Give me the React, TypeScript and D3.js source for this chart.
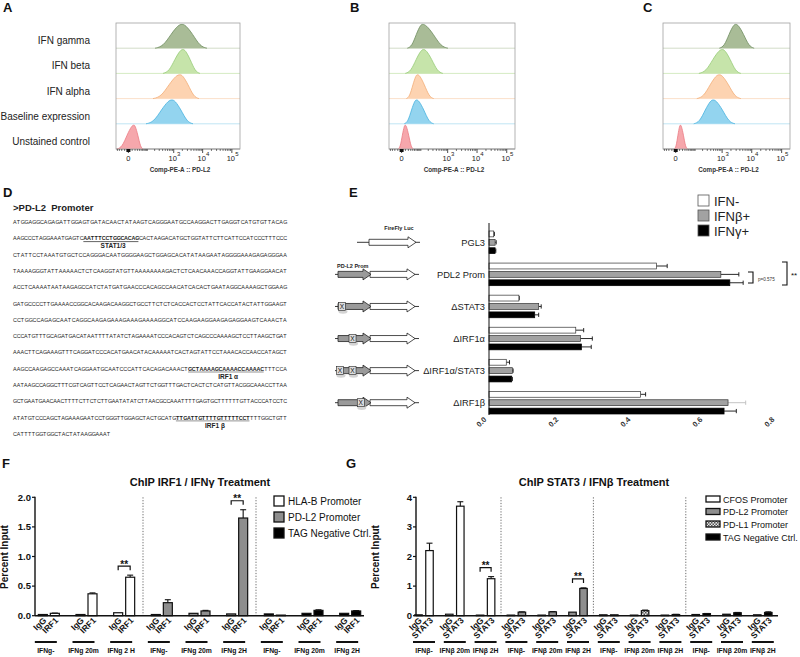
import React from "react";
import * as d3 from "d3";

const FONT = "'Liberation Sans', Arial, Helvetica, sans-serif";

/* ---------------- Panels A–C : flow cytometry overlays ---------------- */
const flowRowLabels = ["IFN gamma", "IFN beta", "IFN alpha", "Baseline expression", "Unstained control"];
const flowFill = ["#a9bc97", "#c6e4aa", "#fdd3b1", "#93d4ef", "#f6a7ac"];
const flowStroke = ["#6f8d60", "#97cb77", "#f3ad77", "#47b3e0", "#eb7b84"];
const flowBase = ["#d3dcc8", "#d5ebc3", "#fbe1ca", "#c0e5f4", "#9a9a9a"];
// [low edge, mode, high edge] of each histogram, fluorescence units (Comp-PE-A)
const histA = [[207, 1950, 14100], [413, 2100, 8100], [172, 1660, 7500], [87, 870, 4670], [-42, 16, 63]];
const histB = [[16, 118, 1023], [9.5, 130, 680], [12.7, 70, 320], [6.6, 63, 320], [-8.9, 9.5, 43]];
const histC = [[801, 2900, 12050], [143, 1023, 4310], [118, 801, 4310], [87, 489, 2735], [-3.4, 12.7, 43]];
const flowMajorTicks = [0, 1000, 10000, 100000];
const flowMajorExp = ["", "3", "4", "5"];
const flowAxisTitle = "Comp-PE-A :: PD-L2";

/* ---------------- Panel D : promoter sequence ---------------- */
const seqTitle = ">PD-L2  Promoter";
const seqLines = [
  "ATGGAGGCAGAGATTGGAGTGATACAACTATAAGTCAGGGAATGCCAAGGACTTGAGGTCATGTGTTACAG",
  "AAGCCCTAGGAAATGAGTC[AATTTCCTGGCACAG]CACTAAGACATGCTGGTATTCTTCATTCCATCCCTTTCCC",
  "CTATTCCTAAATGTGCTCCAGGGACAATGGGGAAGCTGGAGCACATATAAGAATAGGGGAAAGAGAGGGAA",
  "TAAAAGGGTATTAAAAACTCTCAAGGTATGTTAAAAAAAAGACTCTCAACAAACCAGGTATTGAAGGAACAT",
  "ACCTCAAAATAATAAGAGCCATCTATGATGAACCCACAGCCAACATCACACTGAATAGGCAAAAGCTGGAAG",
  "GATGCCCCTTGAAAACCGGCACAAGACAAGGCTGCCTTCTCTCACCACTCCTATTCACCATACTATTGGAAGT",
  "CCTGGCCAGAGCAATCAGGCAAGAGAAAGAAAGAAAAGGCATCCAAGAAGGAAGAGAGGAAGTCAAACTA",
  "CCCATGTTTGCAGATGACATAATTTTATATCTAGAAAATCCCACAGTCTCAGCCCAAAAGCTCCTTAAGCTGAT",
  "AAACTTCAGAAAGTTTCAGGATCCCACATGAACATACAAAAATCACTAGTATTCCTAAACACCAACCATAGCT",
  "AAGCCAAGAGCCAAATCAGGAATGCAATCCCATTCACAGACAAACT[GCTAAAAGCAAAACCAAAAC]TTTCCA",
  "AATAAGCCAGGCTTTCGTCAGTTCCTCAGAACTAGTTCTGGTTTGACTCACTCTCATGTTACGGCAAACCTTAA",
  "GCTGAATGAACAACTTTTCTTCTCTTGAATATATCTTAACGCCAAATTTTGAGTGCTTTTTTGTTACCCATCCTC",
  "ATATGTCCCAGCTAGAAAGAATCCTGGGTTGGAGCTACTGCATG[TTGATTGTTTTGTTTTTCCT]TTTGGCTGTT",
  "CATTTTGGTGGCTACTATAAGGAAAT",
];
const motifLines = [1, 9, 12];
const motifNames = ["STAT1/3", "IRF1 \u03b1", "IRF1 \u03b2"];

/* ---------------- Panel E : luciferase reporter ---------------- */
const eCats = ["PGL3", "PDL2 Prom", "\u0394STAT3", "\u0394IRF1\u03b1", "\u0394IRF1\u03b1/STAT3", "\u0394IRF1\u03b2"];
const eSeries = ["IFN-", "IFN\u03b2+", "IFN\u03b3+"];
const eFill = ["#ffffff", "#a2a2a2", "#000000"];
const eIfnNeg = [0.013, 0.465, 0.083, 0.241, 0.048, 0.421];
const eIfnBeta = [0.017, 0.644, 0.138, 0.254, 0.065, 0.664];
const eIfnGamma = [0.017, 0.669, 0.127, 0.257, 0.063, 0.653];
const eErrNeg = [0.002, 0.03, 0.001, 0.022, 0.009, 0.014];
const eErrBeta = [0.003, 0.05, 0.007, 0.033, 0.002, 0.049];
const eErrGamma = [0.002, 0.037, 0.011, 0.027, 0.002, 0.034];
const eTicks = [0, 0.2, 0.4, 0.6, 0.8];
const eDeletionSites = [[], [], [0.12], [0.44], [0.06, 0.44], [0.69]];

/* ---------------- Panel F : ChIP IRF1 ---------------- */
const fTreat = ["IFNg-", "IFNg 20m", "IFNg 2 H", "IFNg-", "IFNg 20m", "IFNg 2H", "IFNg-", "IFNg 20m", "IFNg 2H"];
const fTargets = ["HLA-B Promoter", "PD-L2 Promoter", "TAG Negative Ctrl."];
const fIgG = [0.02, 0.02, 0.05, 0.02, 0.04, 0.03, 0.03, 0.04, 0.04];
const fIRF1 = [0.04, 0.37, 0.65, 0.22, 0.08, 1.65, 0.01, 0.09, 0.08];
const fIRF1Err = [0.004, 0.015, 0.035, 0.05, 0.01, 0.14, 0, 0.01, 0.006];
const fSig = [2, 5];
const fTicks = [0, 0.5, 1, 1.5, 2];

/* ---------------- Panel G : ChIP STAT3 ---------------- */
const gTreat = ["IFN\u03b2-", "IFN\u03b2 20m", "IFN\u03b2 2H", "IFN\u03b2-", "IFN\u03b2 20m", "IFN\u03b2 2H",
  "IFN\u03b2-", "IFN\u03b2 20m", "IFN\u03b2 2H", "IFN\u03b2-", "IFN\u03b2 20m", "IFN\u03b2 2H"];
const gTargets = ["CFOS Promoter", "PD-L2 Promoter", "PD-L1 Promoter", "TAG Negative Ctrl."];
const gIgG = [0.03, 0.05, 0.02, 0.02, 0.02, 0.12, 0.03, 0.02, 0.02, 0.04, 0.05, 0.03];
const gSTAT3 = [2.2, 3.7, 1.25, 0.12, 0.13, 0.92, 0.03, 0.17, 0.04, 0.07, 0.1, 0.11];
const gSTAT3Err = [0.25, 0.15, 0.07, 0.01, 0.01, 0.02, 0, 0.02, 0.005, 0.005, 0.01, 0.02];
const gSig = [2, 5];
const gTicks = [0, 1, 2, 3, 4];

/* ================================================================== */

function FlowPanel({ left, right, hist, labels }: { left: number; right: number; hist: number[][]; labels?: boolean }) {
  const top = 23, bottom = 149;
  const rowH = (bottom - top) / 5;
  const x = d3.scaleSymlog().constant(29).domain([-48, 190000]).range([left, right]);
  const line = d3.line<[number, number]>().curve(d3.curveBasis);
  const minor: number[] = [-40, -30, -20, -10];
  for (let e = 1; e <= 5; e++) for (let k = 1; k <= 9; k++) {
    const v = k * Math.pow(10, e);
    if (v < 190000 && !(k === 1 && e >= 3)) minor.push(v);
  }
  return (
    <g>
      {hist.map((h, i) => {
        const base = top + rowH * (i + 1);
        const amp = rowH * 0.92;
        const [lo, pk, hi] = h.map((v) => x(v));
        const L = pk - lo, R = hi - pk;
        const pts: [number, number][] = [
          [lo, base], [lo + L * 0.3, base - amp * 0.08], [lo + L * 0.6, base - amp * 0.62],
          [lo + L * 0.86, base - amp * 1.0], [pk, base - amp * 1.04], [pk + R * 0.14, base - amp * 1.0],
          [pk + R * 0.42, base - amp * 0.62], [pk + R * 0.72, base - amp * 0.08], [hi, base],
        ];
        return (
          <g key={i}>
            <line x1={left} x2={right} y1={base} y2={base} stroke={flowBase[i]} strokeWidth={1} />
            <path d={line(pts) || ""} fill={flowFill[i]} stroke={flowStroke[i]} strokeWidth={0.8} />
            {labels && (
              <text x={90} y={base - 4} fontSize={10} textAnchor="end" fill="#222">{flowRowLabels[i]}</text>
            )}
          </g>
        );
      })}
      <rect x={left} y={top} width={right - left} height={bottom - top} fill="none" stroke="#a0a0a0" strokeWidth={0.8} />
      {minor.map((v, i) => (
        <line key={"m" + i} x1={x(v)} x2={x(v)} y1={bottom} y2={bottom + 2} stroke="#222" strokeWidth={0.6} />
      ))}
      {flowMajorTicks.map((v, i) => (
        <g key={"M" + i}>
          <line x1={x(v)} x2={x(v)} y1={bottom} y2={bottom + 4} stroke="#222" strokeWidth={0.8} />
          {i === 0 ? (
            <text x={x(v)} y={160.5} fontSize={7.5} textAnchor="middle" fill="#222">0</text>
          ) : (
            <g>
              <text x={x(v) - 1} y={160.5} fontSize={7.5} textAnchor="middle" fill="#222">10</text>
              <text x={x(v) + 5} y={155.5} fontSize={6} textAnchor="middle" fill="#222">{flowMajorExp[i]}</text>
            </g>
          )}
        </g>
      ))}
      <rect x={x(0) - 2} y={bottom} width={4} height={3} fill="#111" />
      <text x={(left + right) / 2 + 2} y={172} fontSize={6.3} fontWeight="bold" textAnchor="middle" fill="#333">
        {flowAxisTitle}
      </text>
    </g>
  );
}

function parseSeq(raw: string) {
  const segs: { text: string; bold: boolean }[] = [];
  const re = /\[([^\]]+)\]|([^\[]+)/g;
  let m: RegExpExecArray | null;
  while ((m = re.exec(raw))) {
    if (m[1]) segs.push({ text: m[1], bold: true });
    else segs.push({ text: m[2], bold: false });
  }
  return segs;
}

function SequencePanel() {
  const x0 = 13, width = 274, y0 = 224, dy = 16.3;
  return (
    <g fill="#222">
      <text x={13} y={210.5} fontSize={9.5} fontWeight="bold" style={{ whiteSpace: "pre" }}>{seqTitle}</text>
      {seqLines.map((raw, i) => {
        const segs = parseSeq(raw);
        const n = segs.reduce((s, g) => s + g.text.length, 0);
        const step = i === seqLines.length - 1 ? 3.75 : width / n;
        const y = y0 + i * dy;
        let idx = 0;
        const spans: React.ReactNode[] = [];
        const extras: React.ReactNode[] = [];
        segs.forEach((g, j) => {
          const xs = Array.from(g.text, (_, k) => (x0 + (idx + k) * step).toFixed(2)).join(" ");
          spans.push(
            <tspan key={j} x={xs} fontWeight={g.bold ? "bold" : "normal"}>{g.text}</tspan>
          );
          if (g.bold) {
            const a = x0 + idx * step, b = x0 + (idx + g.text.length) * step;
            const mi = motifLines.indexOf(i);
            extras.push(
              <g key={"u" + j}>
                <line x1={a} x2={b - 0.5} y1={y + 1.3} y2={y + 1.3} stroke={i === 1 ? "#222" : "#666"} strokeWidth={0.7} />
                {mi >= 0 && (
                  <text x={(a + b) / 2 + 2} y={y + 8} fontSize={6.5} fontWeight="bold" textAnchor="middle">{motifNames[mi]}</text>
                )}
              </g>
            );
          }
          idx += g.text.length;
        });
        return (
          <g key={i}>
            <text y={y} fontSize={5.4}>{spans}</text>
            {extras}
          </g>
        );
      })}
    </g>
  );
}

function arrowPath(xa: number, xb: number, cy: number, bodyH = 3, headH = 5.5, headL = 8) {
  return `M${xa},${cy - bodyH}H${xb - headL}V${cy - headH}L${xb},${cy}L${xb - headL},${cy + headH}V${cy + bodyH}H${xa}Z`;
}

function ReporterPanel() {
  const ex = d3.scaleLinear().domain([0, 0.8]).range([489, 777]);
  const p = 0.295;
  const ey = d3.scaleBand<string>().domain(eCats).range([226.26, 418.74]).paddingInner(p).paddingOuter(p / 2);
  const es = d3.scaleBand<string>().domain(eSeries).range([0, ey.bandwidth()]).paddingInner(0.3);
  const vals = [eIfnNeg, eIfnBeta, eIfnGamma];
  const errs = [eErrNeg, eErrBeta, eErrGamma];
  const bh = es.bandwidth();
  return (
    <g>
      {/* constructs */}
      <text x={399} y={230} fontSize={5.5} fontWeight="bold" textAnchor="middle" fill="#222">FireFly Luc</text>
      <text x={337} y={268} fontSize={5.5} fontWeight="bold" fill="#222">PD-L2 Prom</text>
      {eCats.map((c, i) => {
        const cy = (ey(c) as number) + ey.bandwidth() / 2;
        if (i === 0) {
          return (
            <g key={c}>
              <line x1={357} x2={420} y1={cy} y2={cy} stroke="#222" strokeWidth={0.9} />
              <path d={arrowPath(369, 416, cy)} fill="#fff" stroke="#222" strokeWidth={0.8} />
            </g>
          );
        }
        return (
          <g key={c}>
            <line x1={335} x2={419} y1={cy} y2={cy} stroke="#222" strokeWidth={0.9} />
            <path d={arrowPath(370, 415, cy)} fill="#fff" stroke="#222" strokeWidth={0.8} />
            <path d={arrowPath(338, 371, cy)} fill="#9a9a9a" stroke="#222" strokeWidth={0.8} />
            {eDeletionSites[i].map((f, k) => {
              const cx = 338 + f * 33;
              return (
                <g key={k}>
                  <ellipse cx={cx + 1} cy={cy + 5} rx={4.5} ry={2.2} fill="#d4d4d4" />
                  <rect x={cx - 3.5} y={cy - 4} width={7} height={8} fill="#ddd" stroke="#222" strokeWidth={0.6} />
                  <text x={cx} y={cy + 2.5} fontSize={6.5} textAnchor="middle" fill="#111">X</text>
                </g>
              );
            })}
          </g>
        );
      })}
      {/* category labels */}
      {eCats.map((c) => (
        <text key={c} x={485} y={(ey(c) as number) + ey.bandwidth() / 2 + 3.5} fontSize={9.3} textAnchor="end" fill="#222">{c}</text>
      ))}
      {/* bars */}
      {eCats.map((c, i) =>
        eSeries.map((s, k) => {
          const y = (ey(c) as number) + (es(s) as number);
          const v = vals[k][i], e = errs[k][i];
          const errColor = i === 5 && k === 1 ? "#bdbdbd" : "#111";
          return (
            <g key={c + s}>
              <line x1={ex(v)} x2={ex(v + e)} y1={y + bh / 2} y2={y + bh / 2} stroke={errColor} strokeWidth={0.9} />
              <line x1={ex(v + e)} x2={ex(v + e)} y1={y + 0.8} y2={y + bh - 0.8} stroke={errColor} strokeWidth={0.9} />
              <rect x={ex(0)} y={y} width={ex(v) - ex(0)} height={bh} fill={eFill[k]} stroke={k === 2 ? "#000" : "#333"} strokeWidth={0.7} />
            </g>
          );
        })
      )}
      <line x1={489} x2={489} y1={223} y2={415} stroke="#111" strokeWidth={1} />
      {eTicks.map((t) => (
        <text key={t} transform={`translate(${ex(t) - 2},420) rotate(-45)`} fontSize={7.5} fontWeight="bold" textAnchor="end" fill="#333">
          {d3.format(".1f")(t)}
        </text>
      ))}
      {/* significance */}
      <path d="M748,272H753V283H748" fill="none" stroke="#111" strokeWidth={1.1} />
      <text x={758} y={280.5} fontSize={4.6} fill="#333">p=0.575</text>
      <path d="M782,262H787V285H782" fill="none" stroke="#111" strokeWidth={1.1} />
      <text x={791} y={278} fontSize={8} fill="#111">**</text>
      {/* legend */}
      {eSeries.map((s, k) => (
        <g key={s}>
          <rect x={698} y={195 + k * 15} width={11} height={11} fill={eFill[k]} stroke="#555" strokeWidth={0.8} />
          <text x={714} y={205.5 + k * 15} fontSize={13} fill="#222">{s}</text>
        </g>
      ))}
    </g>
  );
}

type ChipProps = {
  axisX: number; axisEnd: number; bandR: [number, number]; yMax: number; ticks: number[]; fmt: (v: number) => string;
  treat: string[]; igg: number[]; ab: number[]; err: number[]; abName: string; fills: string[]; sig: number[];
  barW: number; barOff: number; title: string; titleX: number; ylabelX: number; groupShift: number;
  legendX: number; legendW: number; legendH: number; legendY: number[]; legendTextX: number; legendFont: number; targets: string[];
};

function ChipPanel(pr: ChipProps) {
  const yB = 615.7, yT = 497.3;
  const y = d3.scaleLinear().domain([0, pr.yMax]).range([yB, yT]);
  const xb = d3.scaleBand<number>().domain(d3.range(pr.treat.length)).range(pr.bandR);
  const step = xb.step();
  return (
    <g fill="#111">
      <text x={pr.titleX} y={486} fontSize={11} fontWeight="bold" textAnchor="middle">{pr.title}</text>
      <text transform={`translate(${pr.ylabelX},557) rotate(-90)`} fontSize={10} fontWeight="bold" textAnchor="middle">Percent Input</text>
      {/* section separators */}
      {[3, 6, 9].filter((k) => k < pr.treat.length).map((k) => (
        <line key={k} x1={xb(k)} x2={xb(k)} y1={yT} y2={yB} stroke="#444" strokeWidth={0.8} strokeDasharray="1.2,1.6" />
      ))}
      {/* bars */}
      {pr.treat.map((t, i) => {
        const cx = (xb(i) as number) + step / 2;
        const fill = pr.fills[Math.floor(i / 3)];
        const xi = cx - pr.barOff, xa = cx + pr.barOff;
        const v = pr.ab[i], e = pr.err[i];
        const gx = cx + pr.groupShift;
        return (
          <g key={i}>
            {e > 0 && (
              <g>
                <line x1={xa} x2={xa} y1={y(v)} y2={y(v + e)} stroke="#111" strokeWidth={1.1} />
                <line x1={xa - 3} x2={xa + 3} y1={y(v + e)} y2={y(v + e)} stroke="#111" strokeWidth={1.1} />
              </g>
            )}
            <rect x={xi - pr.barW / 2} y={y(pr.igg[i])} width={pr.barW} height={yB - y(pr.igg[i])} fill={fill} stroke="#111" strokeWidth={1.2} />
            <rect x={xa - pr.barW / 2} y={y(v)} width={pr.barW} height={yB - y(v)} fill={fill} stroke="#111" strokeWidth={1.2} />
            <text transform={`translate(${xi + 4},621) rotate(-45)`} fontSize={8.5} fontWeight="bold" textAnchor="end">IgG</text>
            <text transform={`translate(${xa + 4},621) rotate(-45)`} fontSize={8.5} fontWeight="bold" textAnchor="end">{pr.abName}</text>
            <line x1={gx - 11} x2={gx + 11} y1={642} y2={642} stroke="#111" strokeWidth={2} />
            <text x={gx} y={652.5} fontSize={6.8} fontWeight="bold" textAnchor="middle">{t}</text>
            {pr.sig.includes(i) && (
              <g>
                <path d={`M${xi},${y(v + e) - 5}V${y(v + e) - 9}H${xa}V${y(v + e) - 5}`} fill="none" stroke="#111" strokeWidth={1.2} />
                <text x={cx} y={y(v + e) - 7.5} fontSize={10} fontWeight="bold" textAnchor="middle">**</text>
              </g>
            )}
          </g>
        );
      })}
      {/* axes */}
      <line x1={pr.axisX} x2={pr.axisX} y1={yT - 0.5} y2={yB} stroke="#111" strokeWidth={1.4} />
      <line x1={pr.axisX} x2={pr.axisEnd} y1={yB} y2={yB} stroke="#111" strokeWidth={1.4} />
      {pr.ticks.map((t) => (
        <g key={t}>
          <line x1={pr.axisX - 3} x2={pr.axisX} y1={y(t)} y2={y(t)} stroke="#111" strokeWidth={1.2} />
          <text x={pr.axisX - 4} y={y(t) + 3.3} fontSize={9.5} fontWeight="bold" textAnchor="end">{pr.fmt(t)}</text>
        </g>
      ))}
      {/* legend */}
      {pr.targets.map((t, k) => (
        <g key={t}>
          <rect x={pr.legendX} y={pr.legendY[k] - pr.legendH / 2} width={pr.legendW} height={pr.legendH} fill={pr.fills[k]} stroke="#111" strokeWidth={1.3} />
          <text x={pr.legendTextX} y={pr.legendY[k] + 3.5} fontSize={pr.legendFont} fontWeight="normal">{t}</text>
        </g>
      ))}
    </g>
  );
}

export default function App() {
  return (
    <div style={{ position: "absolute", left: 0, top: 0, width: 800, height: 657 }}>
      <svg width={800} height={657} viewBox="0 0 800 657" style={{ display: "block" }} fontFamily={FONT}>
        <defs>
          <pattern id="checker" width="3" height="3" patternUnits="userSpaceOnUse">
            <rect width="3" height="3" fill="#e6e6e6" />
            <rect width="1.5" height="1.5" fill="#555" />
            <rect x="1.5" y="1.5" width="1.5" height="1.5" fill="#555" />
          </pattern>
        </defs>
        <rect width={800} height={657} fill="#fff" />
        {[["A", 3, 12], ["B", 350, 12], ["C", 643, 12], ["D", 3, 197], ["E", 349, 197], ["F", 2, 468], ["G", 346, 468]].map(
          ([l, x, y]) => (
            <text key={l as string} x={x as number} y={y as number} fontSize={13} fontWeight="bold" fill="#111">{l}</text>
          )
        )}
        <FlowPanel left={116} right={240} hist={histA} labels />
        <FlowPanel left={389} right={515} hist={histB} />
        <FlowPanel left={663} right={790} hist={histC} />
        <SequencePanel />
        <ReporterPanel />
        <ChipPanel
          axisX={35} axisEnd={364} bandR={[30, 369]} yMax={2} ticks={fTicks} fmt={d3.format(".1f")}
          treat={fTreat} igg={fIgG} ab={fIRF1} err={fIRF1Err} abName="IRF1" fills={["#ffffff", "#8e8e8e", "#000000"]}
          sig={fSig} barW={9} barOff={6} title={"ChIP IRF1 / IFN\u03b3 Treatment"} titleX={200} ylabelX={8} groupShift={-3}
          legendX={274} legendW={10} legendH={10} legendY={[501, 517, 533]} legendTextX={288} legendFont={10} targets={fTargets}
        />
        <ChipPanel
          axisX={416} axisEnd={778} bandR={[408.6, 778.2]} yMax={4} ticks={gTicks} fmt={d3.format("d")}
          treat={gTreat} igg={gIgG} ab={gSTAT3} err={gSTAT3Err} abName="STAT3"
          fills={["#ffffff", "#8e8e8e", "url(#checker)", "#000000"]}
          sig={gSig} barW={7.5} barOff={5.5} title={"ChIP STAT3 / IFN\u03b2 Treatment"} titleX={594} ylabelX={379} groupShift={0}
          legendX={706} legendW={14} legendH={6} legendY={[499, 511.5, 524, 537]} legendTextX={723} legendFont={9} targets={gTargets}
        />
      </svg>
    </div>
  );
}
